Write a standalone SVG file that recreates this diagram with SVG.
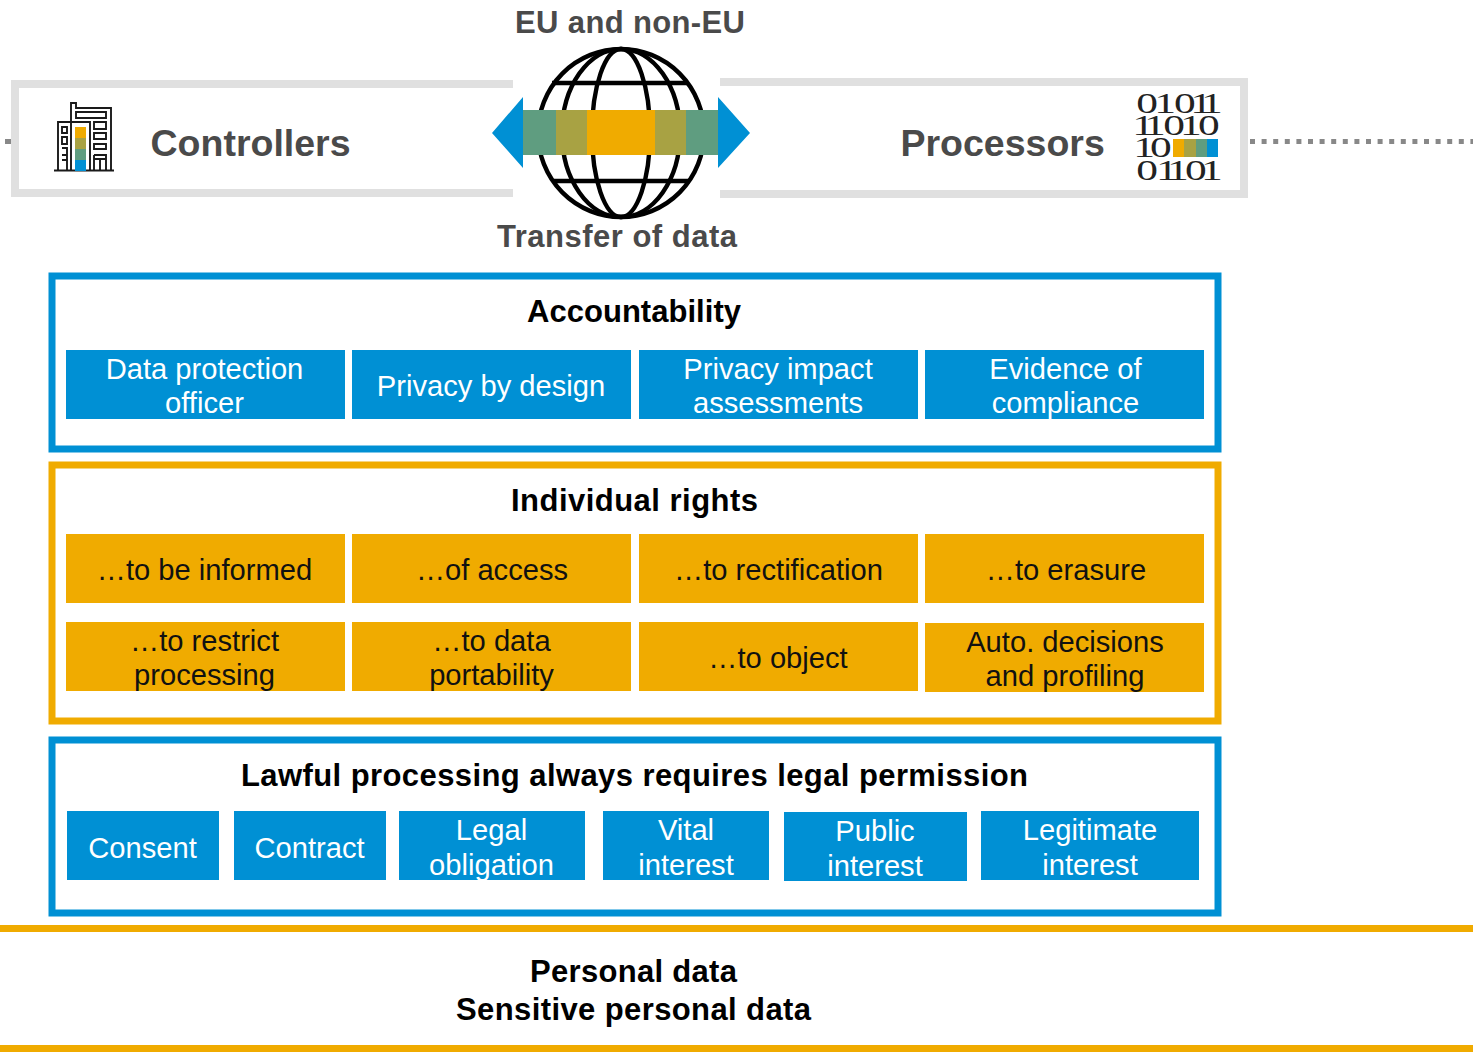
<svg xmlns="http://www.w3.org/2000/svg" width="1473" height="1059" viewBox="0 0 1473 1059">
<style>
text{font-family:"Liberation Sans",Arial,sans-serif}
.t{font-size:29.15px;fill:#fff;text-anchor:middle}
.o{font-size:29.15px;fill:#111;text-anchor:middle}
.h{font-size:31px;font-weight:700;fill:#000}
.g{font-size:31px;font-weight:700;fill:#4a4a4a}
.big{font-size:37.5px;font-weight:700;fill:#4a4a4a}
.blue{fill:#0090d4}.or{fill:#f0ab00}.gr{fill:#5f9d80}.ol{fill:#a8a243}
.frame{fill:none;stroke-width:7}
.top{fill:none;stroke:#e0e0e0;stroke-width:8}
.ln{fill:none;stroke:#000;stroke-width:4.4}
.ic{fill:none;stroke:#1a1a1a;stroke-width:1.9}
.d{font-family:"Liberation Serif",serif;font-size:29px;fill:#222;text-anchor:middle}
</style>
<rect width="1473" height="1059" fill="#fff"/>
<g id="connectors">
<rect x="5" y="139" width="6" height="5" fill="#888"/>
<line x1="1250" y1="141.5" x2="1473" y2="141.5" stroke="#888" stroke-width="5" stroke-dasharray="5 6.6"/>
</g>
<g id="controllers">
<path class="top" d="M513 84H15V193H513"/>
<g class="ic">
<path d="M54 170.5H114M71 170V103H76V108H111V170M58 170V122H71M71 122H90V170M76 112H106V118H76ZM94 122H106V129H94ZM94 133H106V139H94ZM94 144H106V149H94ZM94 155H106V170M94 155V170M94 159H106M100 159V170M62 127H67V133H62ZM62 137H67V144H62ZM62 148H67V170M62 155H67M62 160H67"/>
</g>
<rect class="or" x="75" y="127" width="11" height="11"/>
<rect class="ol" x="75" y="138" width="11" height="11"/>
<rect class="gr" x="75" y="149" width="11" height="11"/>
<rect class="blue" x="75" y="160" width="11" height="11"/>
<text class="big" x="150.5" y="156">Controllers</text>
</g>
<g id="processors">
<path class="top" d="M720 82H1244V194H720"/>
<text class="big" x="900.5" y="156">Processors</text>
<g transform="translate(1137 0) scale(1.5 1)">
<text class="d"><tspan x="6.7 18.7 32 42.7 50" y="113">01011</tspan><tspan x="4 12 24.7 36 48" y="135">11010</tspan><tspan x="4.7 16" y="157">10</tspan><tspan x="6.7 20 27.3 39.3 50" y="180">01101</tspan></text>
</g>
<rect class="or" x="1173" y="139" width="11" height="18"/>
<rect class="ol" x="1184" y="139" width="12" height="18"/>
<rect class="gr" x="1196" y="139" width="11" height="18"/>
<rect class="blue" x="1207" y="139" width="11" height="18"/>
</g>
<g id="globe">
<text class="g" x="515" y="33" textLength="230">EU and non-EU</text>
<text class="g" x="497" y="247" textLength="240">Transfer of data</text>
<ellipse class="ln" cx="621" cy="133" rx="83" ry="84"/>
<ellipse class="ln" cx="621" cy="133" rx="29" ry="84"/>
<ellipse class="ln" cx="621" cy="133" rx="59" ry="84"/>
<path class="ln" d="M552 83H688M554 181H690"/>
<rect class="gr" x="523" y="110" width="33" height="45"/>
<rect class="ol" x="556" y="110" width="31" height="45"/>
<rect class="or" x="587" y="110" width="68" height="45"/>
<rect class="ol" x="655" y="110" width="31" height="45"/>
<rect class="gr" x="686" y="110" width="32" height="45"/>
<path class="blue" d="M523 97V168L492 133ZM718 97V168L750 133Z"/>
</g>
<g id="accountability">
<rect class="frame" x="52" y="276" width="1166" height="173" stroke="#0090d4"/>
<text class="h" x="527" y="322" textLength="214">Accountability</text>
<rect class="blue" x="66" y="350" width="279" height="69"/>
<text class="t" x="204.5" y="379">Data protection</text><text class="t" x="204.5" y="413">officer</text>
<rect class="blue" x="352" y="350" width="279" height="69"/>
<text class="t" x="491" y="396">Privacy by design</text>
<rect class="blue" x="639" y="350" width="279" height="69"/>
<text class="t" x="778" y="379">Privacy impact</text><text class="t" x="778" y="413">assessments</text>
<rect class="blue" x="925" y="350" width="279" height="69"/>
<text class="t" x="1065.5" y="379">Evidence of</text><text class="t" x="1065.5" y="413">compliance</text>
</g>
<g id="individual-rights">
<rect class="frame" x="52" y="465" width="1166" height="256" stroke="#f0ab00"/>
<text class="h" x="511" y="511" textLength="247">Individual rights</text>
<rect class="or" x="66" y="534" width="279" height="69"/>
<text class="o" x="204.5" y="580">…to be informed</text>
<rect class="or" x="352" y="534" width="279" height="69"/>
<text class="o" x="492" y="580">…of access</text>
<rect class="or" x="639" y="534" width="279" height="69"/>
<text class="o" x="778.5" y="580">…to rectification</text>
<rect class="or" x="925" y="534" width="279" height="69"/>
<text class="o" x="1066" y="580">…to erasure</text>
<rect class="or" x="66" y="622" width="279" height="69"/>
<text class="o" x="204.5" y="651">…to restrict</text><text class="o" x="204.5" y="685">processing</text>
<rect class="or" x="352" y="622" width="279" height="69"/>
<text class="o" x="491.5" y="651">…to data</text><text class="o" x="491.5" y="685">portability</text>
<rect class="or" x="639" y="622" width="279" height="69"/>
<text class="o" x="778" y="668">…to object</text>
<rect class="or" x="925" y="623" width="279" height="69"/>
<text class="o" x="1065" y="652">Auto. decisions</text><text class="o" x="1065" y="686">and profiling</text>
</g>
<g id="lawful-processing">
<rect class="frame" x="52" y="740" width="1166" height="173" stroke="#0090d4"/>
<text class="h" x="241" y="786" textLength="787">Lawful processing always requires legal permission</text>
<rect class="blue" x="67" y="811" width="152" height="69"/>
<text class="t" x="142.5" y="858">Consent</text>
<rect class="blue" x="234" y="811" width="152" height="69"/>
<text class="t" x="309.5" y="858">Contract</text>
<rect class="blue" x="399" y="811" width="186" height="69"/>
<text class="t" x="491.5" y="840">Legal</text><text class="t" x="491.5" y="875">obligation</text>
<rect class="blue" x="603" y="811" width="166" height="69"/>
<text class="t" x="686" y="840">Vital</text><text class="t" x="686" y="875">interest</text>
<rect class="blue" x="784" y="812" width="183" height="69"/>
<text class="t" x="875" y="841">Public</text><text class="t" x="875" y="876">interest</text>
<rect class="blue" x="981" y="811" width="218" height="69"/>
<text class="t" x="1090" y="840">Legitimate</text><text class="t" x="1090" y="875">interest</text>
</g>
<g id="personal-data">
<rect class="or" x="0" y="925" width="1473" height="7"/>
<rect class="or" x="0" y="1045" width="1473" height="7"/>
<text class="h" x="530" y="982" textLength="207">Personal data</text>
<text class="h" x="456" y="1020" textLength="355">Sensitive personal data</text>
</g>
</svg>
